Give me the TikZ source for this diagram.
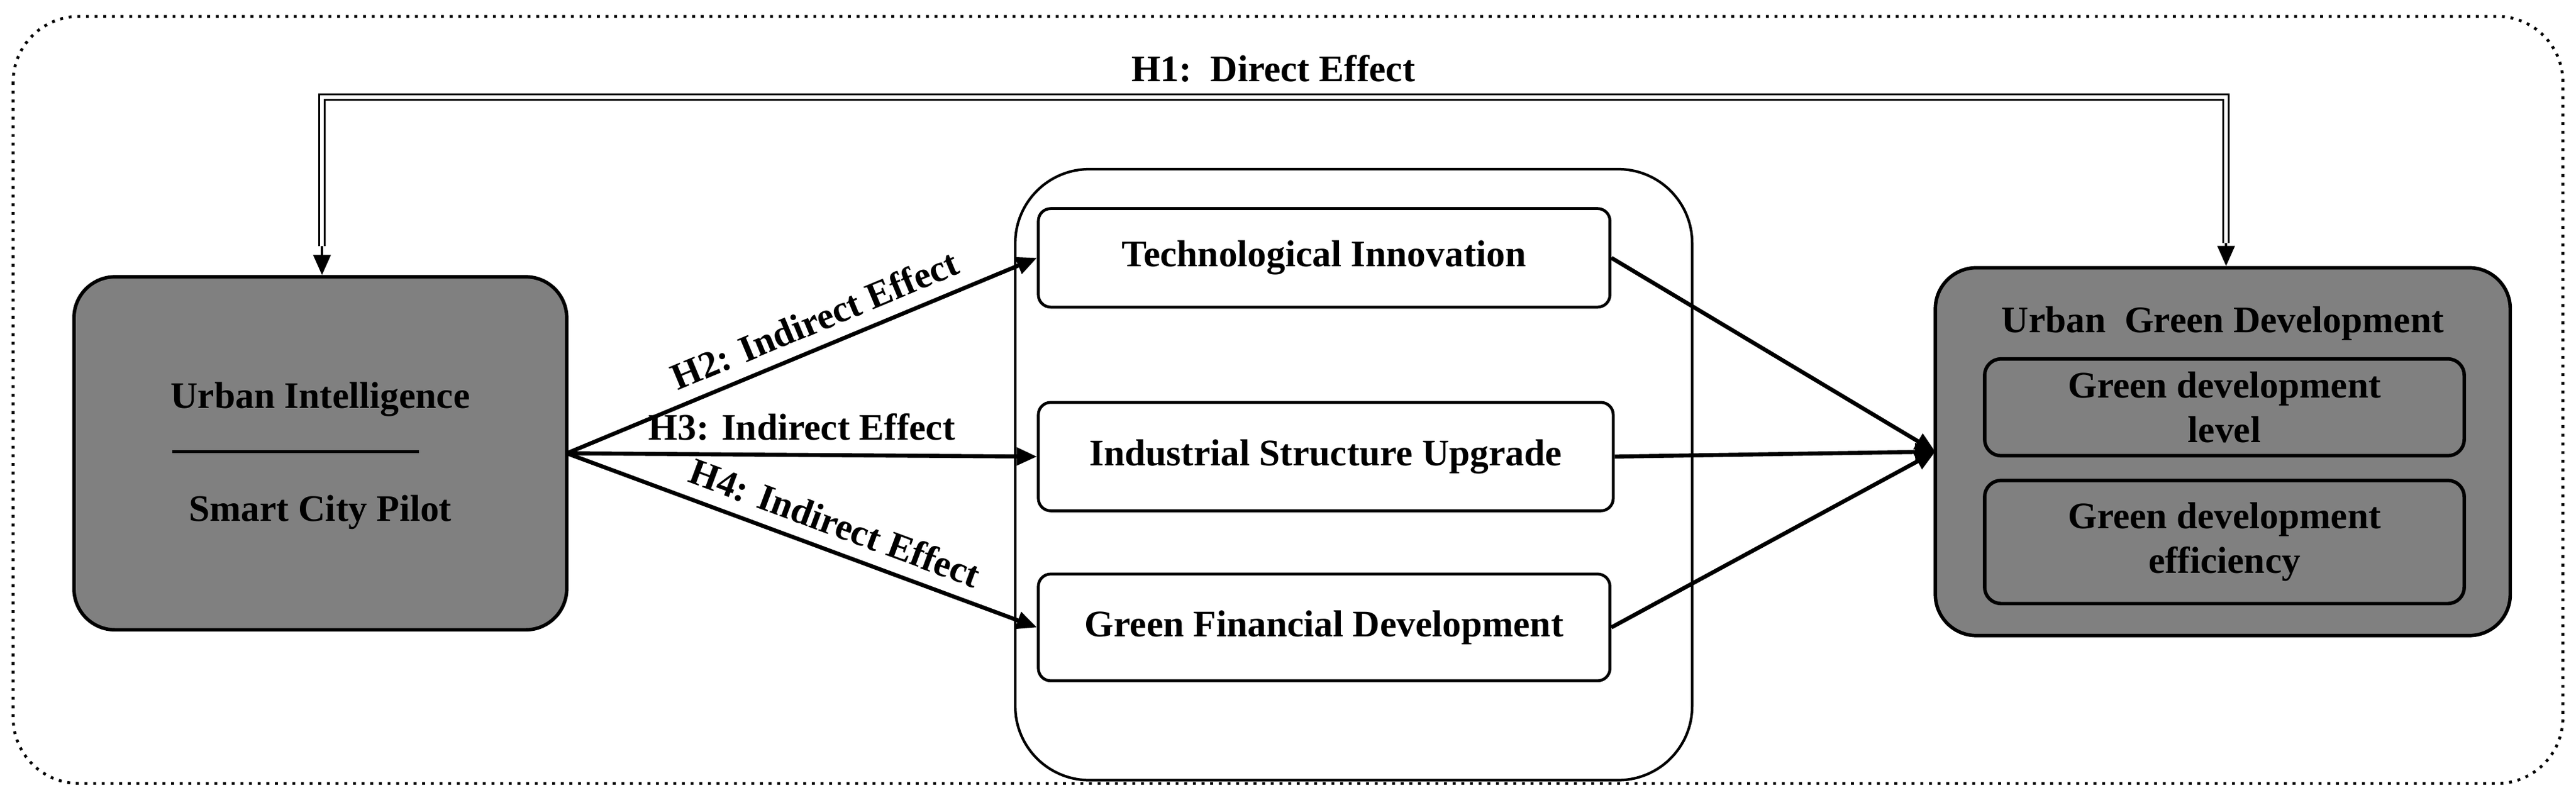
\documentclass[tikz,border=0pt]{standalone}
\usepackage{fontspec}
\setmainfont{Liberation Serif}
\usetikzlibrary{arrows.meta}
\begin{document}
\begin{tikzpicture}[x=0.02cm,y=-0.02cm,
  txt/.style={font=\fontsize{13}{15.5}\selectfont\bfseries},
  graybox/.style={draw, line width=1.2pt, rounded corners=0.5cm, txt, align=center},
  whitebox/.style={draw, line width=1pt, fill=white, rounded corners=0.15cm, txt, align=center},
  innerbox/.style={draw, line width=1.2pt, rounded corners=0.2cm, txt, align=center},
  arr/.style={line width=1.4pt, -{Triangle[length=7pt,width=6pt]}}]
\useasboundingbox (0,0) rectangle (1568,487);
\draw[dotted, line width=1pt, rounded corners=0.8cm] (8,10) rectangle (1560,477);
% middle container
\draw[line width=0.9pt, rounded corners=0.9cm] (618,103) rectangle (1030,475);
% left box
\node[graybox, minimum width=6cm, minimum height=4.3cm, fill=gray] (L) at (195,276) {};
\node[txt] (L1) at (195,243) {Urban Intelligence};
\node[txt] (L2) at (195,312) {Smart City Pilot};
\draw[line width=1pt] (105,275) -- (255,275);
% middle boxes
\node[whitebox, minimum width=6.96cm, minimum height=1.2cm] (T) at (806,157) {Technological Innovation};
\node[whitebox, minimum width=7cm, minimum height=1.32cm] (I) at (807,278) {Industrial Structure Upgrade};
\node[whitebox, minimum width=6.96cm, minimum height=1.3cm] (F) at (806,382) {Green Financial Development};
% right box
\node[graybox, minimum width=7cm, minimum height=4.48cm, fill=gray] (R) at (1353,275) {};
\node[txt] (Rt) at (1353,197) {Urban\enspace Green Development};
\node[innerbox, minimum width=5.84cm, minimum height=1.18cm] (R1) at (1354,248) {Green development\\level};
\node[innerbox, minimum width=5.84cm, minimum height=1.5cm] (R2) at (1354,330) {Green development\\efficiency};
% arrows
\coordinate (Lo) at (345,276);
\coordinate (Ri) at (1178,275);
\draw[arr] (Lo) -- (T.west) node[pos=0.55, sloped, above=1pt, txt] {H2: Indirect Effect};
\draw[arr] (Lo) -- (I.west) node[midway, above=1pt, txt] {H3: Indirect Effect};
\draw[arr] (Lo) -- (F.west) node[pos=0.55, sloped, above=1pt, txt] {H4: Indirect Effect};
\draw[arr] (T.east) -- (Ri);
\draw[arr] (I.east) -- (Ri);
\draw[arr] (F.east) -- (Ri);
% H1
\coordinate (a1) at (196,150);
\coordinate (a2) at (1355,148);
\draw[double, double distance=1.3pt, line width=0.6pt] (a1) -- (196,59) -- (1355,59) -- (a2);
\draw[line width=0.8pt, -{Triangle[length=7pt,width=6pt]}] (a1) -- (L.north -| a1);
\draw[line width=0.8pt, -{Triangle[length=7pt,width=6pt]}] (a2) -- (R.north -| a2);
\node[txt, anchor=south] (H1) at (775,56) {H1:\enspace Direct Effect};
\end{tikzpicture}
\end{document}
